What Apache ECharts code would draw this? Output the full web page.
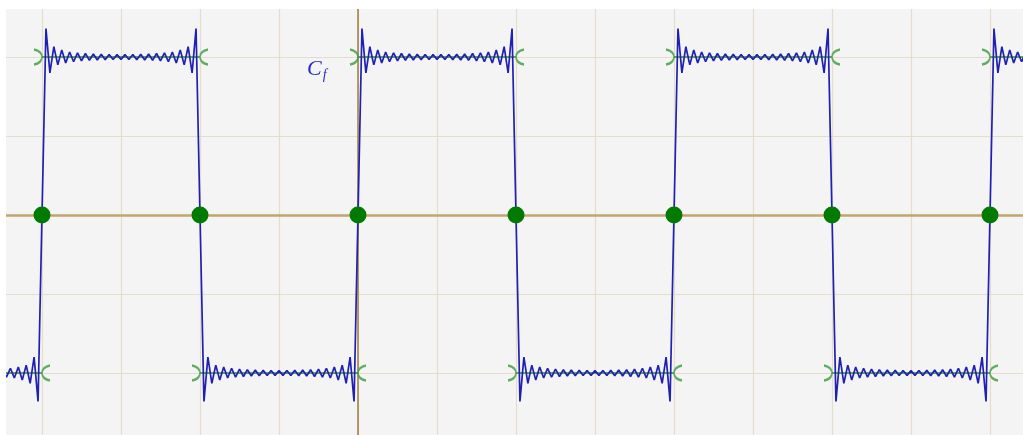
<!DOCTYPE html>
<html>
<head>
<meta charset="utf-8">
<script src="https://cdn.jsdelivr.net/npm/echarts@6/dist/echarts.min.js"></script>
<style>
  html, body { margin: 0; padding: 0; background: #fff; }
  #chart { width: 1023px; height: 435px; }
</style>
</head>
<body>
<div id="chart"></div>
<script>
// one half period of the Fourier curve (x offset step 0.025)
const halfWave = [0, 1.18, 0.9, 1.065, 0.95, 1.045, 0.962, 1.032, 0.97, 1.026,
  0.976, 1.022, 0.979, 1.019, 0.981, 1.017, 0.983, 1.016, 0.984, 1.015,
  0.985, 1.015, 0.984, 1.016, 0.983, 1.017, 0.981, 1.019, 0.979, 1.022,
  0.976, 1.026, 0.97, 1.032, 0.962, 1.045, 0.95, 1.065, 0.9, 1.18, 0]
const halfStep = 0.025

// square wave pieces: start of each half period and its level
const segStart = [-3, -2, -1, 0, 1, 2, 3, 4]
const segSign = [-1, 1, -1, 1, -1, 1, -1, 1]

// value of f at the jumps
const zeros = [-2, -1, 0, 1, 2, 3, 4]

// open ends of the intervals
const leftEnds = [[-3, -1], [-2, 1], [-1, -1], [0, 1], [1, -1], [2, 1], [3, -1], [4, 1]]
const rightEnds = [[-2, -1], [-1, 1], [0, -1], [1, 1], [2, -1], [3, 1], [4, -1]]

let curve = []
let squares = []
segStart.forEach((k, j) => {
  halfWave.forEach((v, i) => {
    curve.push([k + i * halfStep, segSign[j] * v])
  })
  squares.push([k, segSign[j]], [k + 1, segSign[j]], '-')
})

let chart = echarts.init(document.getElementById('chart'))
chart.setOption({
  animation: false,
  grid: {
    left: -37, right: -46, top: -22, bottom: -17,
    outerBoundsMode: 'none',
    show: true, backgroundColor: '#f4f4f4', borderWidth: 0
  },
  xAxis: {
    type: 'value', min: -2.5, max: 4.5, interval: 0.5,
    axisLine: { onZero: true, lineStyle: { color: '#c2a46c', width: 2.5 } },
    axisTick: { show: false }, axisLabel: { show: false },
    splitLine: { lineStyle: { color: '#e6dccb', width: 1.2 } }
  },
  yAxis: {
    type: 'value', min: -1.5, max: 1.5, interval: 0.5,
    axisLine: { onZero: true, lineStyle: { color: '#9c7c3c', width: 1.5 } },
    axisTick: { show: false }, axisLabel: { show: false },
    splitLine: { lineStyle: { color: '#e6dccb', width: 1.2 } }
  },
  graphic: [
    { type: 'rect', left: 0, top: 0, z: 100, shape: { width: 6, height: 435 }, style: { fill: '#fff' } },
    { type: 'rect', left: 0, top: 0, z: 100, shape: { width: 1023, height: 9 }, style: { fill: '#fff' } },
    {
      type: 'text', left: 307, top: 58, z: 50,
      style: {
        text: '{c|C}{f|f}',
        rich: {
          c: { fontFamily: 'Liberation Serif', fontStyle: 'italic', fontSize: 22, fill: '#2a2ac0' },
          f: { fontFamily: 'Liberation Serif', fontStyle: 'italic', fontSize: 14, fill: '#2a2ac0', padding: [12, 0, 0, 1] }
        }
      }
    }
  ],
  series: [
    {
      type: 'line', data: squares, symbol: 'none', connectNulls: false,
      lineStyle: { color: '#2e8e2e', width: 1.5 }, z: 3
    },
    {
      type: 'scatter', data: leftEnds, symbol: 'path://M0,0 C10,2 10,14 0,16',
      symbolSize: [8, 15], symbolOffset: [-4, 0], z: 3,
      itemStyle: { color: 'none', borderColor: '#3a9c3a', borderWidth: 2 }
    },
    {
      type: 'scatter', data: rightEnds, symbol: 'path://M10,0 C0,2 0,14 10,16',
      symbolSize: [8, 15], symbolOffset: [4, 0], z: 3,
      itemStyle: { color: 'none', borderColor: '#3a9c3a', borderWidth: 2 }
    },
    {
      type: 'line', data: curve, symbol: 'none',
      lineStyle: { color: '#2020b4', width: 1.7 }, z: 4
    },
    {
      type: 'scatter', data: zeros.map(x => [x, 0]), symbol: 'circle', symbolSize: 17,
      itemStyle: { color: '#007a00', opacity: 1 }, z: 5
    }
  ]
})
</script>
</body>
</html>
